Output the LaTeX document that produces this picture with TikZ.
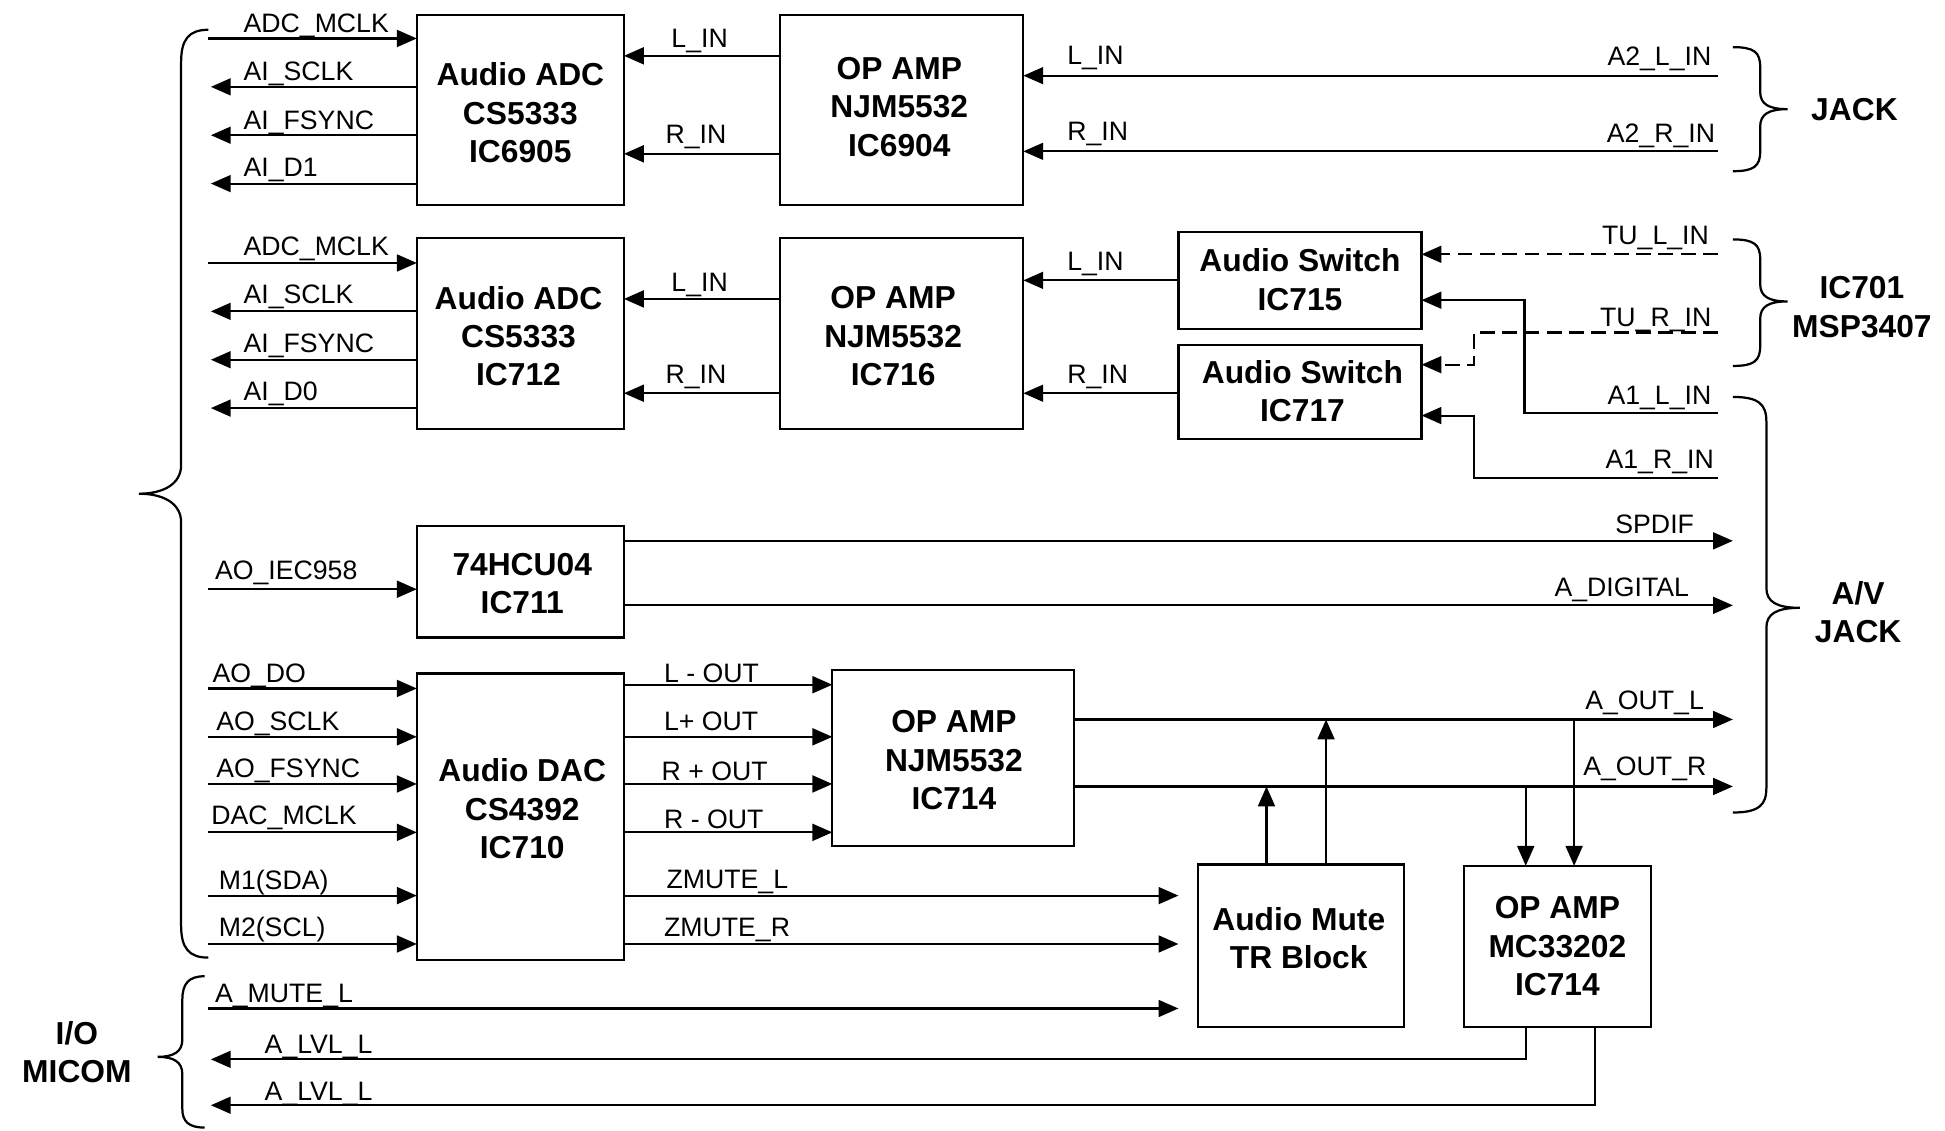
\documentclass[tikz,border=0pt]{standalone}
\usepackage{fontspec}
\setmainfont{Liberation Sans}
\usetikzlibrary{arrows.meta,calc}
\begin{document}
\begin{tikzpicture}[x=0.5pt,y=-0.5pt,
  ln/.style={line width=0.85pt},
  arr/.style={ln,-{Triangle[length=8pt,width=6.8pt]}},
  dsh/.style={arr,dash pattern=on 6pt off 3pt},
  bx/.style 2 args={draw,line width=0.9pt,inner sep=0pt,outer sep=0pt,minimum width=#1*0.5pt,minimum height=#2*0.5pt},
  btxt/.style={font=\fontsize{12.8}{15.5}\selectfont\bfseries,align=center,inner sep=0pt},
  lbl/.style={font=\fontsize{10.75}{13}\selectfont,inner sep=0pt},
  lw/.style={lbl,anchor=base west},
  le/.style={lbl,anchor=base east},
  lc/.style={lbl,anchor=base},
  brace/.style={line width=0.9pt}]
\fill[white] (0,0) rectangle (1568,911);
\useasboundingbox (0,0) rectangle (1568,911);

% ---------------- boxes ----------------
\node[bx={167}{153}] (adc1) at (419.5,88.5) {};
\node[btxt] (adc1t) at (419.5,91) {Audio ADC\\CS5333\\IC6905};
\node[bx={196}{153}] (op1) at (727,88.5) {};
\node[btxt] (op1t) at (725,86) {OP AMP\\NJM5532\\IC6904};
\node[bx={167}{154}] (adc2) at (419.5,269) {};
\node[btxt] (adc2t) at (418,271) {Audio ADC\\CS5333\\IC712};
\node[bx={196}{154}] (op2) at (727,269) {};
\node[btxt] (op2t) at (720,271) {OP AMP\\NJM5532\\IC716};
\node[bx={196}{78}] (sw1) at (1048,226) {};
\node[btxt] (sw1t) at (1048,225.5) {Audio Switch\\IC715};
\node[bx={196}{76}] (sw2) at (1048,316) {};
\node[btxt] (sw2t) at (1050,315.5) {Audio Switch\\IC717};
\node[bx={167}{90}] (hcu) at (419.5,469) {};
\node[btxt] (hcut) at (421,470.5) {74HCU04\\IC711};
\node[bx={167}{231}] (dac) at (419.5,658.5) {};
\node[btxt] (dact) at (421,652) {Audio DAC\\CS4392\\IC710};
\node[bx={195}{142}] (op3) at (768.5,611) {};
\node[btxt] (op3t) at (769,613) {OP AMP\\NJM5532\\IC714};
\node[bx={166}{131}] (mute) at (1049,762.5) {};
\node[btxt] (mutet) at (1047,756.5) {Audio Mute\\TR Block};
\node[bx={151}{130}] (mc) at (1255.5,763) {};
\node[btxt] (mct) at (1255.5,763) {OP AMP\\MC33202\\IC714};

% ---------------- side titles ----------------
\node[btxt] (jack) at (1495,88) {JACK};
\node[btxt] (msp) at (1501,247.5) {IC701\\MSP3407};
\node[btxt] (avjack) at (1498,493.5) {A/V\\JACK};
\node[btxt] (micom) at (62,848) {I/O\\MICOM};

% ---------------- braces ----------------
\draw[brace] (168,24) .. controls (152,24) and (146,32) .. (146,50) -- (146,375)
  .. controls (146,390) and (132,398) .. (112,398)
  .. controls (132,398) and (146,406) .. (146,421) -- (146,746)
  .. controls (146,764) and (152,772) .. (168,772);
\draw[brace] (1397,38) .. controls (1414,38) and (1419,42) .. (1419,54) -- (1419,74)
  .. controls (1419,84) and (1426,88) .. (1441,88)
  .. controls (1426,88) and (1419,92) .. (1419,102) -- (1419,122)
  .. controls (1419,134) and (1414,138) .. (1397,138);
\draw[brace] (1397,193) .. controls (1414,193) and (1419,197) .. (1419,209) -- (1419,229)
  .. controls (1419,239) and (1426,243) .. (1441,243)
  .. controls (1426,243) and (1419,247) .. (1419,257) -- (1419,279)
  .. controls (1419,291) and (1414,295) .. (1397,295);
\draw[brace] (1397,320) .. controls (1418,320) and (1424,326) .. (1424,340) -- (1424,474)
  .. controls (1424,485) and (1432,490) .. (1451,490)
  .. controls (1432,490) and (1424,495) .. (1424,506) -- (1424,635)
  .. controls (1424,649) and (1418,655) .. (1397,655);
\draw[brace] (165,787) .. controls (152,787) and (147,793) .. (147,806) -- (147,838)
  .. controls (147,848) and (140,852) .. (127,852)
  .. controls (140,852) and (147,856) .. (147,866) -- (147,894)
  .. controls (147,904) and (152,909) .. (165,909);

% ---------------- group 1 ----------------
\coordinate (m1) at (168,31);
\draw[arr] (m1) -- (m1 -| adc1.west);
\node[lw] (tm1) at (196,26) {ADC\_MCLK};
\foreach \y/\b/\t [count=\i] in {70/65/AI\_SCLK,109/104/AI\_FSYNC,148/142/AI\_D1} {
  \coordinate (oa\i) at (170,\y);
  \draw[arr] (oa\i -| adc1.west) -- (oa\i);
  \node[lw] (toa\i) at (196,\b) {\t};
}
\coordinate (c1l) at (629,45);
\draw[arr] (c1l) -- (c1l -| adc1.east);
\node[lc] (tc1l) at (564,38) {L\_IN};
\coordinate (c1r) at (629,124);
\draw[arr] (c1r) -- (c1r -| adc1.east);
\node[lc] (tc1r) at (561,116) {R\_IN};
\coordinate (j1) at (1385,61);
\draw[arr] (j1) -- (j1 -| op1.east);
\node[lw] (tj1a) at (860,52) {L\_IN};
\node[le] (tj1b) at (1380,53) {A2\_L\_IN};
\coordinate (j2) at (1385,122);
\draw[arr] (j2) -- (j2 -| op1.east);
\node[lw] (tj2a) at (860,113) {R\_IN};
\node[le] (tj2b) at (1383,115) {A2\_R\_IN};

% ---------------- group 2 ----------------
\coordinate (m2) at (168,212);
\draw[arr] (m2) -- (m2 -| adc2.west);
\node[lw] (tm2) at (196,206) {ADC\_MCLK};
\foreach \y/\b/\t [count=\i] in {251/245/AI\_SCLK,290/284/AI\_FSYNC,329/323/AI\_D0} {
  \coordinate (ob\i) at (170,\y);
  \draw[arr] (ob\i -| adc2.west) -- (ob\i);
  \node[lw] (tob\i) at (196,\b) {\t};
}
\coordinate (c2l) at (629,241);
\draw[arr] (c2l) -- (c2l -| adc2.east);
\node[lc] (tc2l) at (564,235) {L\_IN};
\coordinate (c2r) at (629,317);
\draw[arr] (c2r) -- (c2r -| adc2.east);
\node[lc] (tc2r) at (561,309) {R\_IN};
\coordinate (s1o) at (950,226);
\draw[arr] (s1o) -- (s1o -| op2.east);
\node[lw] (ts1o) at (860,218) {L\_IN};
\coordinate (s2o) at (950,317);
\draw[arr] (s2o) -- (s2o -| op2.east);
\node[lw] (ts2o) at (860,309) {R\_IN};
\coordinate (tul) at (1385,205);
\draw[dsh] (tul) -- (tul -| sw1.east);
\node[le] (ttul) at (1378,197) {TU\_L\_IN};
\coordinate (tur) at (1385,268);
\coordinate (turk) at (1188,268);
\coordinate (turk2) at (1188,294);
\draw[dsh] (tur) -- (turk) -- (turk2) -- (turk2 -| sw2.east);
\node[le] (ttur) at (1380,263) {TU\_R\_IN};
\coordinate (a1l) at (1385,333);
\coordinate (a1lk) at (1229,333);
\coordinate (a1lk2) at (1229,242);
\draw[arr] (a1l) -- (a1lk) -- (a1lk2) -- (a1lk2 -| sw1.east);
\node[le] (ta1l) at (1380,326) {A1\_L\_IN};
\coordinate (a1r) at (1385,385);
\coordinate (a1rk) at (1188,385);
\coordinate (a1rk2) at (1188,335);
\draw[arr] (a1r) -- (a1rk) -- (a1rk2) -- (a1rk2 -| sw2.east);
\node[le] (ta1r) at (1382,378) {A1\_R\_IN};

% ---------------- group 3 ----------------
\coordinate (iec) at (168,475);
\draw[arr] (iec) -- (iec -| hcu.west);
\node[lw] (tiec) at (173,467) {AO\_IEC958};
\coordinate (spd) at (1397,436);
\draw[arr] (spd -| hcu.east) -- (spd);
\node[le] (tspd) at (1366,430) {SPDIF};
\coordinate (dig) at (1397,488);
\draw[arr] (dig -| hcu.east) -- (dig);
\node[le] (tdig) at (1362,481) {A\_DIGITAL};

% ---------------- DAC ----------------
\foreach \y/\b/\xx/\t [count=\i] in {555/550/171/AO\_DO,594/589/174/AO\_SCLK,632/627/174/AO\_FSYNC,671/665/170/DAC\_MCLK,722/717/176/M1(SDA),761/755/176/M2(SCL)} {
  \coordinate (di\i) at (168,\y);
  \draw[arr] (di\i) -- (di\i -| dac.west);
  \node[lw] (tdi\i) at (\xx,\b) {\t};
}
\foreach \y/\b/\xx/\t [count=\i] in {552/550/535/L - OUT,594/589/535/L+ OUT,632/629/533/R + OUT,671/668/535/R - OUT} {
  \coordinate (dq\i) at (671,\y);
  \draw[arr] (dq\i -| dac.east) -- (dq\i);
  \node[lw] (tdq\i) at (\xx,\b) {\t};
}
\coordinate (zl) at (950,722);
\draw[arr] (zl -| dac.east) -- (zl);
\node[lw] (tzl) at (537,716) {ZMUTE\_L};
\coordinate (zr) at (950,761);
\draw[arr] (zr -| dac.east) -- (zr);
\node[lw] (tzr) at (535,755) {ZMUTE\_R};

% ---------------- outputs ----------------
\coordinate (aol) at (1397,580);
\draw[arr] (aol -| op3.east) -- (aol);
\node[le] (taol) at (1374,572) {A\_OUT\_L};
\coordinate (aor) at (1397,634);
\draw[arr] (aor -| op3.east) -- (aor);
\node[le] (taor) at (1376,625) {A\_OUT\_R};
\coordinate (mu1) at (1021,634);
\draw[arr] (mu1 |- mute.north) -- (mu1);
\coordinate (mu2) at (1069,580);
\draw[arr] (mu2 |- mute.north) -- (mu2);
\coordinate (md1) at (1230,634);
\draw[arr] (md1) -- (md1 |- mc.north);
\coordinate (md2) at (1269,580);
\draw[arr] (md2) -- (md2 |- mc.north);

% ---------------- bottom ----------------
\coordinate (aml) at (168,813);
\coordinate (amle) at (950,813);
\draw[arr] (aml) -- (amle);
\node[lw] (taml) at (173,808) {A\_MUTE\_L};
\coordinate (lv1) at (1230,854);
\coordinate (lv1e) at (170,854);
\draw[arr] (lv1 |- mc.south) -- (lv1) -- (lv1e);
\node[lw] (tlv1) at (213,849) {A\_LVL\_L};
\coordinate (lv2) at (1286,891);
\coordinate (lv2e) at (170,891);
\draw[arr] (lv2 |- mc.south) -- (lv2) -- (lv2e);
\node[lw] (tlv2) at (213,887) {A\_LVL\_L};
\end{tikzpicture}
\end{document}
